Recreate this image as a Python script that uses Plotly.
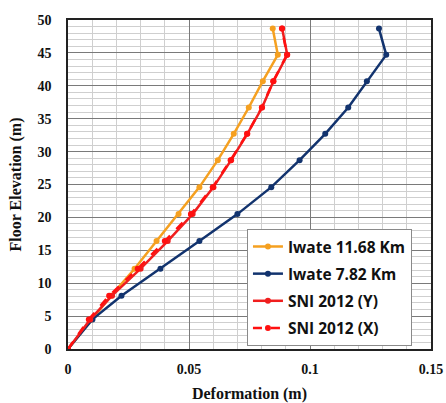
import plotly.graph_objects as go

# Floor elevations (m)
floors = [0, 4.5, 8.1, 12.2, 16.4, 20.5, 24.6, 28.7, 32.7, 36.7, 40.7, 44.7, 48.7]

# Storey deformation (m) per case
iwate_1168 = [0, 0.0097, 0.0178, 0.0275, 0.0366, 0.0457, 0.0543, 0.0619, 0.0685, 0.0747, 0.0805, 0.0867, 0.0846]
iwate_782 = [0, 0.0101, 0.0221, 0.0382, 0.0543, 0.0700, 0.0840, 0.0957, 0.1063, 0.1158, 0.1235, 0.1315, 0.1285]
sni_y = [0, 0.0092, 0.0182, 0.0300, 0.0412, 0.0515, 0.0601, 0.0674, 0.0741, 0.0802, 0.0849, 0.0906, 0.0885]
sni_x = [0, 0.0086, 0.0170, 0.0288, 0.0400, 0.0508, 0.0598, 0.0672, 0.0740, 0.0801, 0.0848, 0.0905, 0.0884]

x_ticks = [0, 0.05, 0.1, 0.15]
x_tick_labels = ["0", "0.05", "0.1", "0.15"]
y_ticks = list(range(0, 51, 5))

series = [
    ("Iwate 11.68 Km", iwate_1168, "#f5a020", "solid"),
    ("Iwate 7.82 Km", iwate_782, "#12336e", "solid"),
    ("SNI 2012 (Y)", sni_y, "#f01e1e", "solid"),
    ("SNI 2012 (X)", sni_x, "#ff1010", "dash"),
]

fig = go.Figure()
for i, (name, xs, color, dash) in enumerate(series):
    fig.add_trace(go.Scatter(
        x=xs, y=floors, name=name, mode="lines+markers",
        line=dict(color=color, width=2.5, dash=dash),
        marker=dict(color=color, size=6, symbol="circle"),
        legendgroup=f"g{i}",
    ))

tick_font = dict(family="Liberation Serif", size=14, color="#111", weight="bold")
title_font = dict(family="Liberation Serif", size=16, color="#111", weight="bold")

fig.update_layout(
    width=446, height=403,
    margin=dict(l=68, r=15, t=20, b=54),
    paper_bgcolor="white", plot_bgcolor="white",
    showlegend=True,
    legend=dict(
        x=0.493, y=0.365, xanchor="left", yanchor="top",
        bgcolor="white", bordercolor="#8a8a8a", borderwidth=1,
        font=dict(family="Open Sans", size=15.5, color="#111", weight="bold"),
        tracegroupgap=4, traceorder="grouped",
        itemwidth=30,
    ),
)

fig.update_xaxes(
    range=[0, 0.15], tickvals=x_ticks, ticktext=x_tick_labels,
    automargin=False,
    showgrid=True, gridcolor="#7a7a7a", gridwidth=1.2,
    minor=dict(dtick=0.01, showgrid=True, gridcolor="#cfcfcf", gridwidth=1),
    showline=True, linecolor="#222", linewidth=1.5, mirror=True,
    zeroline=False, ticks="", ticklabelstandoff=6,
    tickfont=tick_font,
    title=dict(text="Deformation (m)", font=title_font, standoff=16),
)
fig.update_yaxes(
    range=[0, 50], tickvals=y_ticks,
    automargin=False,
    showgrid=True, gridcolor="#7a7a7a", gridwidth=1.2,
    minor=dict(dtick=1, showgrid=True, gridcolor="#cfcfcf", gridwidth=1),
    showline=True, linecolor="#222", linewidth=1.5, mirror=True,
    zeroline=False, ticks="", ticklabelstandoff=12,
    tickfont=tick_font,
    title=dict(text="Floor Elevation (m)", font=title_font, standoff=12),
)

fig.write_html("out.html")
